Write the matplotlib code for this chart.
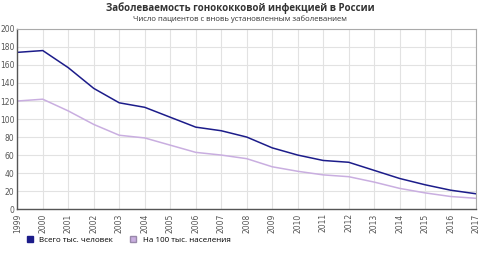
import matplotlib
matplotlib.use('Agg')
from matplotlib import pyplot as plt
from matplotlib.lines import Line2D
import numpy as np

years = list(range(1999, 2018))
total = [174, 176, 157, 134, 118, 113, 102, 91, 87, 80, 68, 60, 54, 52, 43, 34, 27, 21, 17]
per100k = [120, 122, 109, 94, 82, 79, 71, 63, 60, 56, 47, 42, 38, 36, 30, 23, 18, 14, 12]
yticks = list(range(0, 201, 20))

blue = '#1c1c8a'
lilac = '#c9aee0'

fig = plt.figure(figsize=(4.8, 2.73), dpi=100)
ax = fig.add_axes([0.036, 0.234, 0.956, 0.66])

ax.plot(years, total, color=blue, lw=1.1)
ax.plot(years, per100k, color=lilac, lw=1.1)

ax.set_xlim(1999, 2017)
ax.set_ylim(0, 200)
ax.set_xticks(years)
ax.set_xticklabels([str(y) for y in years], rotation=90, fontsize=5.5, color='#555555')
ax.set_yticks(yticks)
ax.set_yticklabels([str(v) for v in yticks], fontsize=5.5, color='#555555')
ax.tick_params(axis='x', length=0, pad=3)
ax.tick_params(axis='y', length=0, pad=2)
ax.grid(color='#e2e2e2', lw=0.8)
ax.set_axisbelow(True)
for s in ['top', 'right']:
    ax.spines[s].set_color('#aaaaaa')
    ax.spines[s].set_linewidth(0.8)
for s in ['left', 'bottom']:
    ax.spines[s].set_color('#555555')
    ax.spines[s].set_linewidth(1.0)

fig.text(0.5, 0.972, 'Заболеваемость гонококковой инфекцией в России', ha='center', va='center',
         fontsize=7, fontweight='bold', color='#333333', family='Open Sans')
fig.text(0.5, 0.93, 'Число пациентов с вновь установленным заболеванием', ha='center', va='center',
         fontsize=5.6, color='#333333', family='Open Sans')

handles = [Line2D([], [], marker='s', ls='none', color=blue, markersize=5),
           Line2D([], [], marker='s', ls='none', markerfacecolor=lilac, markeredgecolor='#9988aa', markersize=5)]
fig.legend(handles, ['Всего тыс. человек', 'На 100 тыс. населения'], loc='center left',
           bbox_to_anchor=(0.03, 0.12), ncol=2, frameon=False,
           handletextpad=0.2, columnspacing=1.5, prop={'family': 'Open Sans', 'size': 5.8})

fig.savefig('out.png', dpi=100)
